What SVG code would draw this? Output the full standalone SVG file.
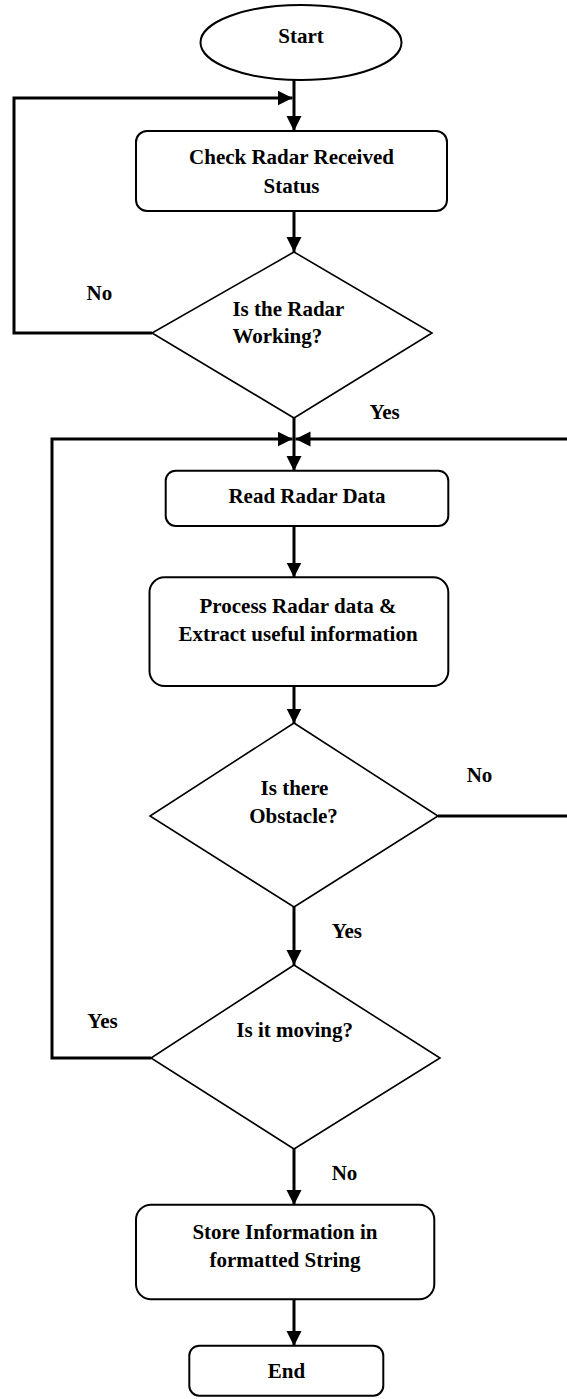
<svg xmlns="http://www.w3.org/2000/svg" width="567" height="1399" viewBox="0 0 567 1399">
  <style>
    .shape { fill: #ffffff; stroke: #000000; stroke-width: 2; }
    .decision { fill: #ffffff; stroke: #000000; stroke-width: 1.6; }
    .wire { fill: none; stroke: #000000; stroke-width: 3; stroke-linejoin: miter; }
    text { font-family: "Liberation Serif", "Times New Roman", serif; font-weight: bold; font-size: 21px; fill: #000000; }
    .mid { text-anchor: middle; }
  </style>
  <defs>
    <marker id="arrow" markerUnits="userSpaceOnUse" markerWidth="16" markerHeight="16" refX="15" refY="7.5" orient="auto">
      <path d="M0,0 L15,7.5 L0,15 Z" fill="#000000"/>
    </marker>
  </defs>

  <rect width="567" height="1399" fill="#ffffff"/>

  <!-- connectors -->
  <g id="connectors">
    <path class="wire" d="M294,80 V131" marker-end="url(#arrow)"/>
    <path class="wire" d="M294,211 V252" marker-end="url(#arrow)"/>
    <path class="wire" d="M152,333 H14 V98 H292.5" marker-end="url(#arrow)"/>
    <path class="wire" d="M294,418 V471" marker-end="url(#arrow)"/>
    <path class="wire" d="M294,526 V577.5" marker-end="url(#arrow)"/>
    <path class="wire" d="M294,686 V723.5" marker-end="url(#arrow)"/>
    <path class="wire" d="M438,816 H572 V439 H295.5" marker-end="url(#arrow)"/>
    <path class="wire" d="M294,907 V965" marker-end="url(#arrow)"/>
    <path class="wire" d="M151,1058 H52 V439 H292.5" marker-end="url(#arrow)"/>
    <path class="wire" d="M294,1149 V1205" marker-end="url(#arrow)"/>
    <path class="wire" d="M294,1299 V1346" marker-end="url(#arrow)"/>
  </g>

  <g id="start">
    <ellipse class="shape" cx="301" cy="42.5" rx="100.5" ry="37.5"/>
    <text class="mid" x="301" y="43">Start</text>
  </g>

  <g id="check-status">
    <rect class="shape" x="136" y="131" width="311" height="80" rx="11"/>
    <text class="mid" x="291.5" y="164">Check Radar Received</text>
    <text class="mid" x="291.5" y="192.7">Status</text>
  </g>

  <g id="radar-working">
    <polygon class="decision" points="294,252 432,333 294,418 152,333"/>
    <text x="232.4" y="316">Is the Radar</text>
    <text x="232.4" y="343.3">Working?</text>
  </g>

  <g id="read-data">
    <rect class="shape" x="165.7" y="470.7" width="282.6" height="55.3" rx="10"/>
    <text class="mid" x="307" y="502.7">Read Radar Data</text>
  </g>

  <g id="process-data">
    <rect class="shape" x="149.5" y="577.3" width="298.8" height="108.7" rx="15"/>
    <text class="mid" x="298" y="612.7">Process Radar data &amp;</text>
    <text class="mid" x="298" y="640.7">Extract useful information</text>
  </g>

  <g id="obstacle">
    <polygon class="decision" points="294,723 438,816 294,907 150,816"/>
    <text class="mid" x="294.5" y="795">Is there</text>
    <text class="mid" x="293.5" y="822.7">Obstacle?</text>
  </g>

  <g id="moving">
    <polygon class="decision" points="294,965 440,1058 294,1149 151,1058"/>
    <text class="mid" x="294.7" y="1036.7">Is it moving?</text>
  </g>

  <g id="store-info">
    <rect class="shape" x="136" y="1204.7" width="298.3" height="94.6" rx="15"/>
    <text class="mid" x="285" y="1239.3">Store Information in</text>
    <text class="mid" x="285" y="1267">formatted String</text>
  </g>

  <g id="end">
    <rect class="shape" x="189.3" y="1345.7" width="194" height="50" rx="10"/>
    <text class="mid" x="286.5" y="1378.3">End</text>
  </g>

  <!-- branch labels -->
  <g id="labels">
    <text x="86.5" y="300">No</text>
    <text x="369.4" y="419">Yes</text>
    <text x="466.7" y="781.7">No</text>
    <text x="331.7" y="937.7">Yes</text>
    <text x="87.3" y="1028.3">Yes</text>
    <text x="331.7" y="1180">No</text>
  </g>
</svg>
